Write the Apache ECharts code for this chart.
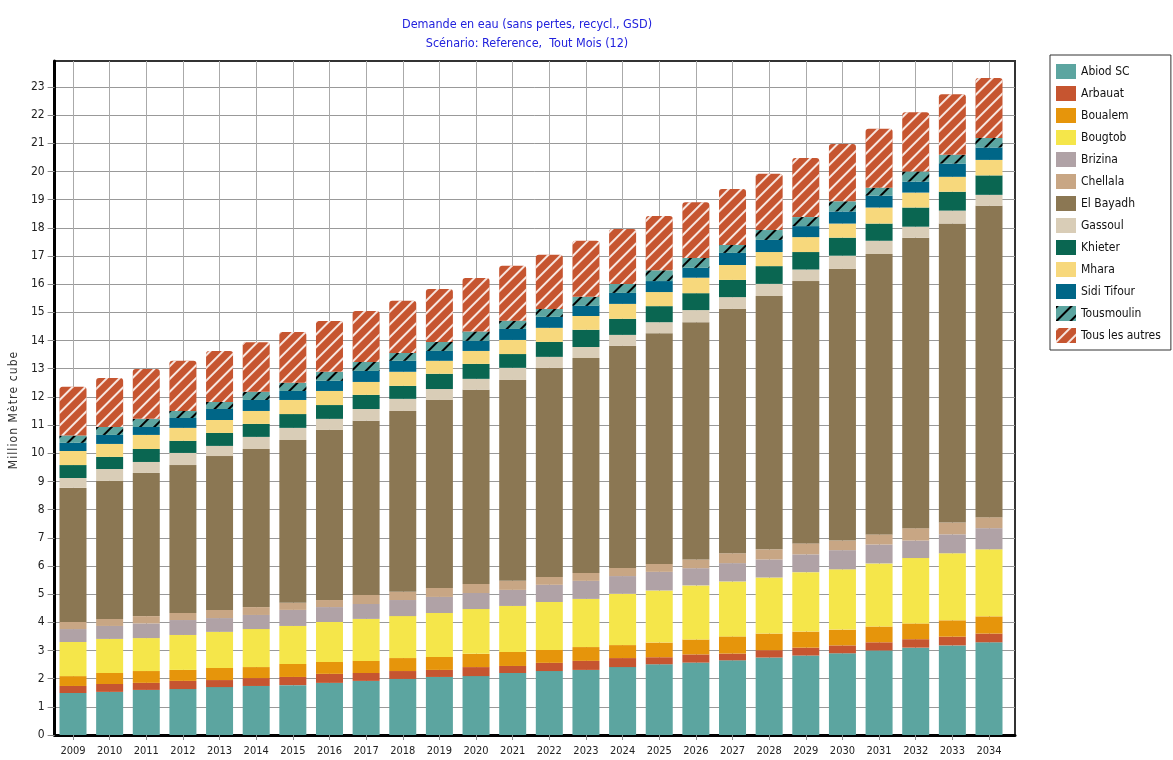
<!DOCTYPE html>
<html>
<head>
<meta charset="utf-8">
<script src="https://cdn.jsdelivr.net/npm/echarts@6/dist/echarts.min.js"></script>
<style>
html,body{margin:0;padding:0;background:#fff;}
#chart{width:1173px;height:760px;}
</style>
</head>
<body>
<div id="chart"></div>
<script>
const years = ['2009','2010','2011','2012','2013','2014','2015','2016','2017','2018','2019','2020','2021','2022','2023','2024','2025','2026','2027','2028','2029','2030','2031','2032','2033','2034'];
const yTicks = [0,1,2,3,4,5,6,7,8,9,10,11,12,13,14,15,16,17,18,19,20,21,22,23];

const abiodSC     = [1.49,1.53,1.60,1.63,1.70,1.74,1.77,1.85,1.92,1.99,2.06,2.09,2.20,2.27,2.31,2.41,2.51,2.57,2.65,2.75,2.82,2.90,3.00,3.10,3.18,3.29];
const arbauat     = [0.25,0.28,0.25,0.29,0.25,0.28,0.29,0.32,0.28,0.28,0.25,0.32,0.25,0.29,0.32,0.32,0.25,0.29,0.24,0.26,0.28,0.28,0.29,0.30,0.31,0.31];
const boualem     = [0.35,0.39,0.42,0.39,0.43,0.39,0.46,0.42,0.43,0.46,0.46,0.47,0.50,0.46,0.49,0.46,0.52,0.53,0.61,0.59,0.57,0.56,0.56,0.56,0.58,0.61];
const bougtob     = [1.21,1.21,1.17,1.24,1.28,1.35,1.35,1.42,1.49,1.49,1.56,1.59,1.63,1.70,1.71,1.82,1.85,1.92,1.95,1.99,2.11,2.14,2.24,2.32,2.38,2.38];
const brizina     = [0.46,0.46,0.52,0.53,0.49,0.50,0.57,0.53,0.53,0.57,0.57,0.57,0.57,0.61,0.64,0.63,0.66,0.61,0.65,0.64,0.63,0.68,0.67,0.62,0.67,0.75];
const chellala    = [0.25,0.25,0.26,0.25,0.29,0.28,0.25,0.25,0.32,0.29,0.32,0.32,0.32,0.28,0.28,0.29,0.28,0.31,0.35,0.36,0.39,0.34,0.36,0.44,0.42,0.39];
const elBayadh    = [4.76,4.90,5.08,5.25,5.46,5.61,5.78,6.04,6.18,6.42,6.67,6.89,7.13,7.42,7.63,7.88,8.19,8.42,8.67,8.99,9.31,9.64,9.95,10.31,10.61,11.05];
const gassoul     = [0.35,0.42,0.39,0.43,0.36,0.43,0.43,0.39,0.42,0.43,0.39,0.39,0.43,0.39,0.39,0.39,0.39,0.43,0.42,0.43,0.41,0.47,0.47,0.39,0.46,0.39];
const khieter     = [0.46,0.43,0.46,0.43,0.46,0.46,0.49,0.49,0.50,0.46,0.54,0.53,0.49,0.53,0.61,0.57,0.57,0.60,0.61,0.63,0.62,0.64,0.61,0.68,0.67,0.69];
const mhara       = [0.50,0.46,0.50,0.46,0.46,0.46,0.50,0.50,0.46,0.50,0.46,0.46,0.50,0.50,0.49,0.53,0.50,0.55,0.53,0.50,0.53,0.50,0.57,0.53,0.53,0.55];
const sidiTifour  = [0.29,0.32,0.28,0.35,0.39,0.39,0.32,0.36,0.39,0.39,0.35,0.36,0.39,0.39,0.36,0.39,0.39,0.35,0.43,0.43,0.39,0.43,0.42,0.39,0.47,0.44];
const tousmoulin  = [0.26,0.28,0.29,0.25,0.25,0.29,0.29,0.32,0.32,0.28,0.32,0.33,0.29,0.28,0.32,0.32,0.38,0.35,0.28,0.35,0.32,0.36,0.28,0.36,0.31,0.34];
const tousAutres  = [1.73,1.74,1.77,1.78,1.81,1.76,1.80,1.80,1.81,1.85,1.88,1.90,1.95,1.92,1.99,1.95,1.93,1.98,1.99,2.00,2.10,2.03,2.10,2.10,2.15,2.13];

const seriesNames = ['Abiod SC','Arbauat','Boualem','Bougtob','Brizina','Chellala','El Bayadh','Gassoul','Khieter','Mhara','Sidi Tifour','Tousmoulin','Tous les autres'];
const seriesData = [abiodSC,arbauat,boualem,bougtob,brizina,chellala,elBayadh,gassoul,khieter,mhara,sidiTifour,tousmoulin,tousAutres];
const seriesColors = ['#5ca5a0','#c65530','#e6950b','#f5e64a','#b0a2a6','#c8a684','#8b7753','#d9cdb7','#0a6651','#f7d87c','#006687','#5ca5a0','#c65530'];

const FONT = "'DejaVu Sans Condensed','Liberation Sans Narrow','Liberation Sans',sans-serif";
const YMAX = 23.92;

const series = seriesNames.map((name, i) => {
  const s = {
    name: name,
    type: 'bar',
    stack: 'total',
    xAxisIndex: 0,
    yAxisIndex: 0,
    barWidth: 27,
    clip: false,
    data: seriesData[i],
    itemStyle: { color: seriesColors[i] }
  };
  if (name === 'Tousmoulin') {
    s.itemStyle.decal = { symbol: 'rect', symbolSize: 1, dashArrayX: [[1, 0]], dashArrayY: [2, 8], rotation: -Math.PI / 4, color: '#000' };
  }
  if (name === 'Tous les autres') {
    s.itemStyle.decal = { symbol: 'rect', symbolSize: 1, dashArrayX: [[1, 0]], dashArrayY: [1.5, 7], rotation: -Math.PI / 4, color: 'rgba(255,255,255,0.85)' };
    s.itemStyle.borderRadius = [3, 3, 0, 0];
  }
  return s;
});

// letter-spaced axis name
const yName = 'Million Mètre cube'.split('').join('\u200A');

const chart = echarts.init(document.getElementById('chart'), null, { renderer: 'canvas' });
chart.setOption({
  backgroundColor: '#ffffff',
  animation: false,
  textStyle: { fontFamily: FONT },
  title: {
    text: 'Demande en eau (sans pertes, recycl., GSD)\nScénario: Reference,  Tout Mois (12)',
    left: 522, top: 10, textAlign: 'center',
    textStyle: { color: '#2222dd', fontSize: 12.5, fontWeight: 'normal', lineHeight: 19, fontFamily: FONT }
  },
  legend: {
    orient: 'vertical',
    left: 1050, top: 55,
    padding: [9, 10, 7, 6],
    borderColor: '#333', borderWidth: 1,
    itemWidth: 20, itemHeight: 15, itemGap: 7,
    icon: 'rect',
    data: seriesNames,
    textStyle: { fontSize: 12, color: '#111', fontFamily: FONT }
  },
  grid: [
    { left: 73, right: 184, top: 61, bottom: 25, containLabel: false },
    { left: 48, right: 158, top: 61, bottom: 25, containLabel: false, show: true, borderColor: '#333', borderWidth: 2, backgroundColor: 'transparent' }
  ],
  xAxis: [
    {
      type: 'category', gridIndex: 0, data: years, boundaryGap: false,
      axisLine: { show: false },
      axisTick: { show: true, length: 5, lineStyle: { color: '#888' } },
      axisLabel: { fontSize: 11, color: '#222', margin: 11, interval: 0, fontFamily: FONT },
      splitLine: { show: true, lineStyle: { color: '#aaa', width: 1 } }
    },
    {
      type: 'value', gridIndex: 1, min: 0, max: 1,
      axisLine: { show: true, lineStyle: { color: '#000', width: 3 } },
      axisTick: { show: false }, axisLabel: { show: false }, splitLine: { show: false }
    }
  ],
  yAxis: [
    {
      type: 'value', gridIndex: 0, min: 0, max: YMAX, interval: 1,
      axisLine: { show: false }, axisTick: { show: false }, axisLabel: { show: false }, splitLine: { show: false }
    },
    {
      type: 'value', gridIndex: 1, min: 0, max: YMAX, interval: 1,
      name: yName, nameLocation: 'middle', nameGap: 24, nameRotate: 90,
      nameTextStyle: { fontSize: 12, color: '#333', fontFamily: FONT, padding: [0, 0, 0, -25] },
      axisLine: { show: true, lineStyle: { color: '#000', width: 3 } },
      axisTick: { show: true, length: 7, lineStyle: { color: '#888' }, customValues: yTicks },
      axisLabel: { fontSize: 12, color: '#222', margin: 10, fontFamily: FONT, customValues: yTicks },
      splitLine: { show: true, lineStyle: { color: '#999', width: 1 } }
    }
  ],
  series: series
});
</script>
</body>
</html>
